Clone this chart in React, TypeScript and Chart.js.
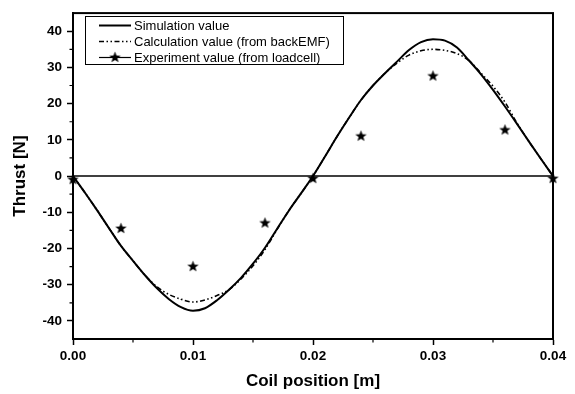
import React, { useEffect, useRef } from 'react';
import { Chart, registerables } from 'chart.js';

Chart.register(...registerables);

// ---- Data ----
const positions = [
  0, 0.001, 0.002, 0.003, 0.004, 0.005, 0.006, 0.007, 0.008, 0.009, 0.01,
  0.011, 0.012, 0.013, 0.014, 0.015, 0.016, 0.017, 0.018, 0.019, 0.02,
  0.021, 0.022, 0.023, 0.024, 0.025, 0.026, 0.027, 0.028, 0.029, 0.03,
  0.031, 0.032, 0.033, 0.034, 0.035, 0.036, 0.037, 0.038, 0.039, 0.04,
];
const simulation = [
  0, -4.6, -9.4, -14.4, -19.3, -23.4, -27.4, -31.0, -34.0, -36.2, -37.2,
  -36.5, -34.3, -31.4, -28.1, -24.2, -19.8, -14.6, -9.5, -4.8, 0,
  5.4, 10.9, 16.1, 21.0, 25.0, 28.4, 31.6, 34.8, 37.0, 37.8,
  37.4, 35.5, 31.9, 28.1, 23.8, 19.2, 14.4, 9.5, 4.7, 0,
];
const calculation = [
  0, -4.6, -9.4, -14.4, -19.3, -23.4, -27.4, -30.6, -32.7, -34.0, -34.8,
  -34.2, -33.0, -31.4, -28.4, -24.8, -20.3, -14.8, -9.5, -4.8, 0,
  5.4, 10.9, 16.1, 21.0, 25.0, 28.4, 31.2, 33.4, 34.6, 35.0,
  34.7, 33.8, 31.9, 28.4, 24.8, 20.4, 14.6, 9.5, 4.7, 0,
];
const expPositions = [0, 0.004, 0.01, 0.016, 0.02, 0.024, 0.03, 0.036, 0.04];
const experiment = [-1.0, -14.5, -25.0, -13.0, -0.7, 11.0, 27.6, 12.7, -0.7];

const seriesNames = [
  'Simulation value',
  'Calculation value (from backEMF)',
  'Experiment value (from loadcell)',
];
const xTicks = [0, 0.01, 0.02, 0.03, 0.04];
const xMinor = [0.005, 0.015, 0.025, 0.035];
const yTicks = [-40, -30, -20, -10, 0, 10, 20, 30, 40];
const yMinor = [-35, -25, -15, -5, 5, 15, 25, 35];

const FONT = "'Liberation Sans', Arial, sans-serif";
const DASH = [5, 2.5, 1.5, 2.5, 1.5, 2.5];

function makeStar(size: number): HTMLCanvasElement {
  const c = document.createElement('canvas');
  c.width = size;
  c.height = size;
  const ctx = c.getContext('2d')!;
  const cx = size / 2, cy = size / 2;
  const R = size / 2 - 0.5, r = R * 0.42;
  ctx.beginPath();
  for (let i = 0; i < 10; i++) {
    const a = -Math.PI / 2 + (i * Math.PI) / 5;
    const rad = i % 2 === 0 ? R : r;
    const x = cx + rad * Math.cos(a);
    const y = cy + rad * Math.sin(a);
    if (i === 0) ctx.moveTo(x, y); else ctx.lineTo(x, y);
  }
  ctx.closePath();
  ctx.fillStyle = '#000';
  ctx.fill();
  return c;
}

export default function App() {
  const ref = useRef<HTMLCanvasElement | null>(null);

  useEffect(() => {
    document.body.style.margin = '0';
    const canvas = ref.current!;
    const star = makeStar(13);

    const framePlugin = {
      id: 'frame',
      beforeDatasetsDraw(chart: any) {
        const { ctx, chartArea: a, scales } = chart;
        const y0 = scales.y.getPixelForValue(0);
        ctx.save();
        ctx.strokeStyle = '#000';
        ctx.lineWidth = 1.5;
        ctx.beginPath();
        ctx.moveTo(a.left, y0);
        ctx.lineTo(a.right, y0);
        ctx.stroke();
        // minor ticks
        ctx.lineWidth = 1.2;
        ctx.beginPath();
        xMinor.forEach((v) => {
          const px = scales.x.getPixelForValue(v);
          ctx.moveTo(px, a.bottom);
          ctx.lineTo(px, a.bottom + 3.5);
        });
        yMinor.forEach((v) => {
          const py = scales.y.getPixelForValue(v);
          ctx.moveTo(a.left, py);
          ctx.lineTo(a.left - 3.5, py);
        });
        ctx.stroke();
        ctx.restore();
      },
      afterDraw(chart: any) {
        const { ctx, chartArea: a } = chart;
        ctx.save();
        ctx.strokeStyle = '#000';
        ctx.lineWidth = 2;
        ctx.strokeRect(a.left, a.top, a.right - a.left, a.bottom - a.top);

        // legend
        const bx = 85.5, by = 16.5, bw = 258, bh = 48;
        ctx.fillStyle = '#fff';
        ctx.fillRect(bx, by, bw, bh);
        ctx.lineWidth = 1;
        ctx.strokeRect(bx, by, bw, bh);
        const rows = [25.5, 41.5, 57.5];
        const x1 = 99, x2 = 131, tx = 134;
        ctx.font = `13px ${FONT}`;
        ctx.fillStyle = '#000';
        ctx.textBaseline = 'middle';
        ctx.textAlign = 'left';
        ctx.lineWidth = 2;
        ctx.setLineDash([]);
        ctx.beginPath(); ctx.moveTo(x1, rows[0]); ctx.lineTo(x2, rows[0]); ctx.stroke();
        ctx.setLineDash(DASH);
        ctx.lineWidth = 1.6;
        ctx.beginPath(); ctx.moveTo(x1, rows[1]); ctx.lineTo(x2, rows[1]); ctx.stroke();
        ctx.setLineDash([]);
        ctx.lineWidth = 1.2;
        ctx.beginPath(); ctx.moveTo(x1, rows[2]); ctx.lineTo(x2, rows[2]); ctx.stroke();
        ctx.drawImage(star, (x1 + x2) / 2 - 6.5, rows[2] - 6.5);
        rows.forEach((ry, i) => ctx.fillText(seriesNames[i], tx, ry + 0.5));
        ctx.restore();
      },
    };

    const chart = new Chart(canvas, {
      type: 'scatter',
      data: {
        datasets: [
          {
            label: seriesNames[0],
            data: positions.map((x, i) => ({ x, y: simulation[i] })),
            showLine: true,
            borderColor: '#000',
            borderWidth: 2,
            pointRadius: 0,
            cubicInterpolationMode: 'monotone',
          },
          {
            label: seriesNames[1],
            data: positions.map((x, i) => ({ x, y: calculation[i] })),
            showLine: true,
            borderColor: '#000',
            borderWidth: 1.6,
            borderDash: DASH,
            pointRadius: 0,
            cubicInterpolationMode: 'monotone',
          },
          {
            label: seriesNames[2],
            data: expPositions.map((x, i) => ({ x, y: experiment[i] })),
            showLine: false,
            pointStyle: star as any,
            pointRadius: 6,
            clip: false as any,
          },
        ],
      },
      options: {
        responsive: false,
        animation: false,
        events: [],
        layout: { padding: { top: 8, right: 22, left: 0, bottom: 0 } },
        plugins: {
          legend: { display: false },
          tooltip: { enabled: false },
        },
        scales: {
          x: {
            type: 'linear',
            min: 0,
            max: 0.04,
            afterBuildTicks: (s: any) => { s.ticks = xTicks.map((v) => ({ value: v })); },
            afterFit: (s: any) => { s.height = 55; },
            ticks: {
              color: '#000',
              font: { family: FONT, size: 13.5, weight: 'bold' },
              padding: 3,
              maxRotation: 0,
              callback: (v: any) => Number(v).toFixed(2),
            },
            grid: { drawOnChartArea: false, drawTicks: true, tickLength: 6, tickWidth: 1.5, color: '#000' },
            border: { display: true, color: '#000', width: 2 },
            title: {
              display: true,
              text: 'Coil position [m]',
              color: '#000',
              font: { family: FONT, size: 17, weight: 'bold' },
              padding: { top: 0, bottom: 2 },
            },
          },
          y: {
            type: 'linear',
            min: -45,
            max: 45,
            afterBuildTicks: (s: any) => { s.ticks = yTicks.map((v) => ({ value: v })); },
            afterFit: (s: any) => { s.width = 73; },
            ticks: {
              color: '#000',
              font: { family: FONT, size: 13.5, weight: 'bold' },
              padding: 5,
            },
            grid: { drawOnChartArea: false, drawTicks: true, tickLength: 6, tickWidth: 1.5, color: '#000' },
            border: { display: true, color: '#000', width: 2 },
            title: {
              display: true,
              text: 'Thrust [N]',
              color: '#000',
              font: { family: FONT, size: 17, weight: 'bold' },
              padding: { top: 10, bottom: 0 },
            },
          },
        },
      },
      plugins: [framePlugin],
    } as any);

    return () => chart.destroy();
  }, []);

  return <canvas ref={ref} width={575} height={394} style={{ display: 'block' }} />;
}
